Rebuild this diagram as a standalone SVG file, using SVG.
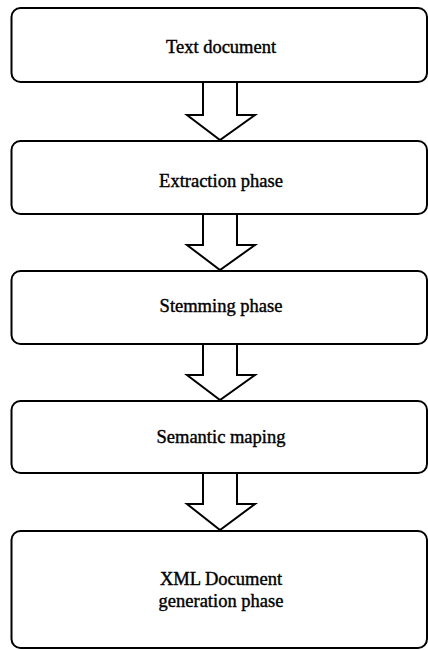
<svg xmlns="http://www.w3.org/2000/svg" width="428" height="650" viewBox="0 0 428 650">
<style>
.box{fill:#fff;stroke:#000;stroke-width:2}
.arr{fill:#fff;stroke:#000;stroke-width:2;stroke-linejoin:miter}
.lbl{font-family:"Liberation Serif","Times New Roman",serif;font-size:18.5px;fill:#000;text-anchor:middle;stroke:#000;stroke-width:0.4}
</style>
<rect width="428" height="650" fill="#fff"/>
<g id="connectors">
<path class="arr" d="M203,82 L203,115 L187,115 L220,140 L255,115 L237,115 L237,82"/>
<path class="arr" d="M203,214 L203,245 L187,245 L220,270 L255,245 L237,245 L237,214"/>
<path class="arr" d="M203,344 L203,375 L187,375 L220,400 L255,375 L237,375 L237,344"/>
<path class="arr" d="M203,473 L203,504 L187,504 L220,530 L255,504 L237,504 L237,473"/>
</g>
<g id="n1"><rect class="box" x="11.5" y="8" width="415.5" height="74" rx="9"/><text class="lbl" x="221" y="53">Text document</text></g>
<g id="n2"><rect class="box" x="11.5" y="141" width="415.5" height="73" rx="9"/><text class="lbl" x="221" y="187">Extraction phase</text></g>
<g id="n3"><rect class="box" x="11.5" y="271" width="415.5" height="73" rx="9"/><text class="lbl" x="221" y="312">Stemming phase</text></g>
<g id="n4"><rect class="box" x="11.5" y="401" width="415.5" height="72" rx="9"/><text class="lbl" x="221" y="443">Semantic maping</text></g>
<g id="n5"><rect class="box" x="11.5" y="531" width="415.5" height="117" rx="9"/><text class="lbl" x="221" y="585">XML Document</text><text class="lbl" x="221" y="607">generation phase</text></g>
</svg>
